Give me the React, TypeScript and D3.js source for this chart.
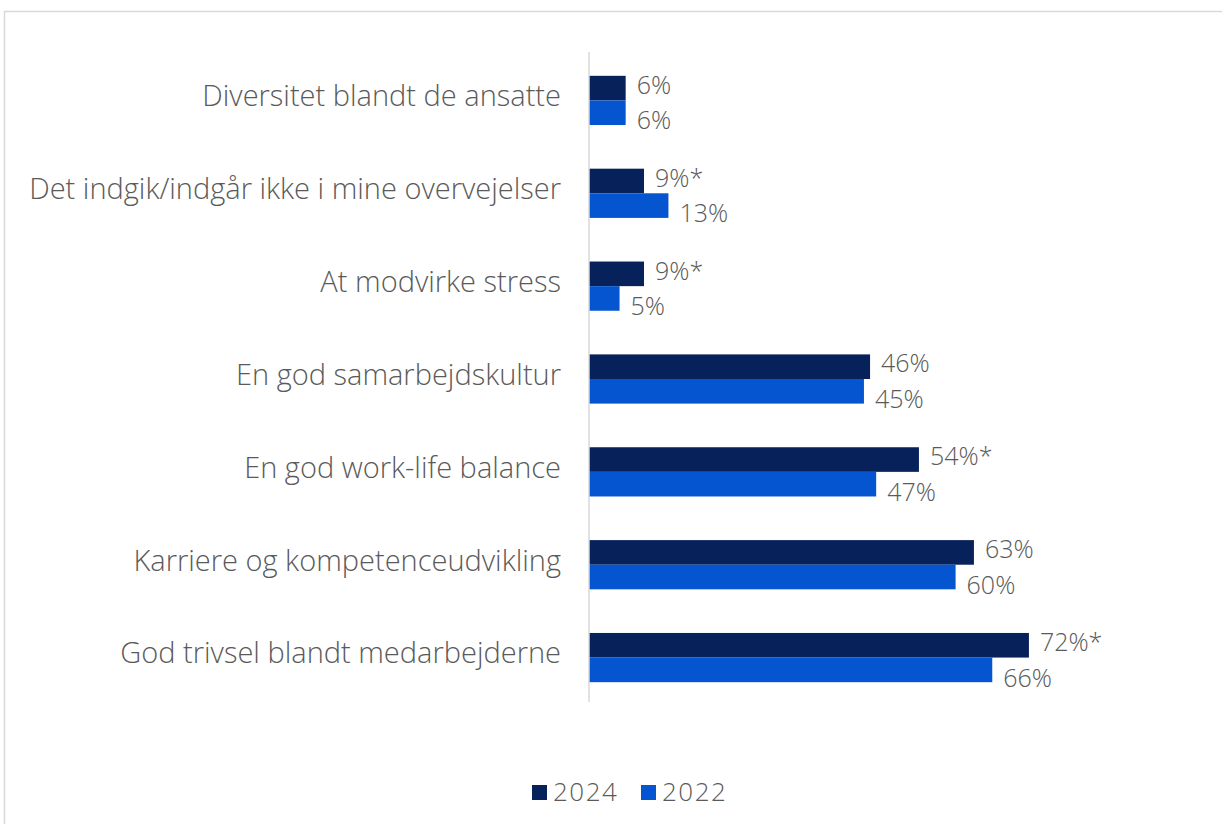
import * as d3 from 'd3'

const categories = [
  'Diversitet blandt de ansatte',
  'Det indgik/indgår ikke i mine overvejelser',
  'At modvirke stress',
  'En god samarbejdskultur',
  'En god work-life balance',
  'Karriere og kompetenceudvikling',
  'God trivsel blandt medarbejderne',
]
const values2024 = [6, 9, 9, 46, 54, 63, 72]
const values2022 = [6, 13, 5, 45, 47, 60, 66]
const labels2024 = ['6%', '9%*', '9%*', '46%', '54%*', '63%', '72%*']
const labels2022 = ['6%', '13%', '5%', '45%', '47%', '60%', '66%']
const seriesNames = ['2024', '2022']

const W = 1222
const H = 824
const AXIS_X = 589
const TOP = 52
const BOTTOM = 702
const C2024 = '#07215b'
const C2022 = '#0455cf'
const TEXT = '#5a5a5a'
const FONT = '"Open Sans", Lato, sans-serif'

export default function App() {
  const x = d3.scaleLinear().domain([0, 100]).range([AXIS_X, AXIS_X + 611])
  // bars sit ~2px lower than the axis span
  const y = d3.scaleBand<string>().domain(categories).range([TOP + 2, BOTTOM + 2]).paddingInner(0.47).paddingOuter(0.235)
  const bh = y.bandwidth() / 2

  return (
    <svg width={W} height={H} style={{ position: 'absolute', left: 0, top: 0, display: 'block' }}>
      <rect x={0} y={0} width={W} height={H} fill="#fff" />
      {/* outer frame */}
      <rect x={4.5} y={11.5} width={W + 20} height={H + 20} fill="none" stroke="#d9d9d9" strokeWidth={1.5} />

      {categories.map((c, i) => {
        const y0 = y(c) ?? 0
        const w24 = x(values2024[i]) - x(0)
        const w22 = x(values2022[i]) - x(0)
        return (
          <g key={c}>
            <text
              x={AXIS_X - 28}
              y={y0 + bh}
              dy="0.2em"
              textAnchor="end"
              fill={TEXT}
              fontSize={29}
              fontWeight={300}
              fontFamily={FONT}
            >
              {c}
            </text>
            <rect x={x(0)} y={y0} width={w24} height={bh} fill={C2024} />
            <rect x={x(0)} y={y0 + bh} width={w22} height={bh} fill={C2022} />
            <text
              x={x(values2024[i]) + 11}
              y={y0 + bh / 2 - 3}
              dy="0.35em"
              fill={TEXT}
              fontSize={25}
              fontWeight={300}
              fontFamily={FONT}
            >
              {labels2024[i]}
            </text>
            <text
              x={x(values2022[i]) + 11}
              y={y0 + bh * 1.5 + 8}
              dy="0.35em"
              fill={TEXT}
              fontSize={25}
              fontWeight={300}
              fontFamily={FONT}
            >
              {labels2022[i]}
            </text>
          </g>
        )
      })}

      {/* category axis */}
      <line x1={AXIS_X} y1={TOP} x2={AXIS_X} y2={BOTTOM} stroke="#d9d9d9" strokeWidth={1.5} />

      {/* legend */}
      <g>
        <rect x={532} y={785} width={15} height={15} fill={C2024} />
        <text x={553} y={792} dy="0.35em" fill={TEXT} fontSize={26} fontWeight={300} fontFamily={FONT} letterSpacing={1.5}>
          {seriesNames[0]}
        </text>
        <rect x={641} y={785} width={15} height={15} fill={C2022} />
        <text x={662} y={792} dy="0.35em" fill={TEXT} fontSize={26} fontWeight={300} fontFamily={FONT} letterSpacing={1.5}>
          {seriesNames[1]}
        </text>
      </g>
    </svg>
  )
}
